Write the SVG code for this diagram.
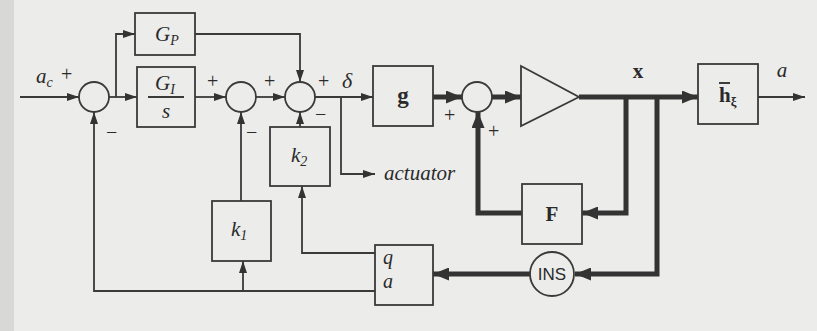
<svg xmlns="http://www.w3.org/2000/svg" width="817" height="331" viewBox="0 0 817 331">
<defs>
<style>
.bg{fill:#ececea}
.blk{fill:none;stroke:#3a3a3a;stroke-width:1.8}
.thin{fill:none;stroke:#3a3a3a;stroke-width:1.8}
.thick{fill:none;stroke:#333;stroke-width:5}
.t{font-family:"Liberation Serif",serif;fill:#2a2a2a}
.it{font-style:italic}
.b{font-weight:bold}
.s{font-family:"Liberation Sans",sans-serif;fill:#2a2a2a}
</style>
<marker id="ah" markerWidth="12" markerHeight="8" refX="12" refY="4" orient="auto" markerUnits="userSpaceOnUse"><path d="M0,0 L12,4 L0,8 z" fill="#333"/></marker>
<marker id="AH" markerWidth="16" markerHeight="13" refX="16" refY="6.5" orient="auto" markerUnits="userSpaceOnUse"><path d="M0,0 L16,6.5 L0,13 z" fill="#333"/></marker>
</defs>
<rect class="bg" x="0" y="0" width="817" height="331"/>
<rect x="0" y="0" width="14" height="331" fill="#d8d8d6"/>

<g id="connectors">
<path class="thin" d="M20,97 H79" marker-end="url(#ah)"/>
<path class="thin" d="M109,97 H137" marker-end="url(#ah)"/>
<path class="thin" d="M116,97 V34 H135" marker-end="url(#ah)"/>
<path class="thin" d="M195,97 H226" marker-end="url(#ah)"/>
<path class="thin" d="M256,97 H285" marker-end="url(#ah)"/>
<path class="thin" d="M195,34 H300 V82" marker-end="url(#ah)"/>
<path class="thin" d="M300,127 V112" marker-end="url(#ah)"/>
<path class="thin" d="M315,97 H373" marker-end="url(#ah)"/>
<path class="thin" d="M341,97 V174 H375" marker-end="url(#ah)"/>
<path class="thick" d="M433,97 H462" marker-end="url(#AH)"/>
<path class="thick" d="M492,97 H521" marker-end="url(#AH)"/>
<path class="thick" d="M579,97 H698" marker-end="url(#AH)"/>
<path class="thin" d="M758,97 H805" marker-end="url(#ah)"/>
<path class="thick" d="M626,97 V213 H582" marker-end="url(#AH)"/>
<path class="thick" d="M522,213 H478 V112" marker-end="url(#AH)"/>
<path class="thick" d="M657,97 V274 H575" marker-end="url(#AH)"/>
<path class="thick" d="M530,274 H433" marker-end="url(#AH)"/>
<path class="thin" d="M375,253 H302 V186" marker-end="url(#ah)"/>
<path class="thin" d="M375,291 H94 V112" marker-end="url(#ah)"/>
<path class="thin" d="M243,291 V261" marker-end="url(#ah)"/>
<path class="thin" d="M241,201 V112" marker-end="url(#ah)"/>
</g>

<g id="sum1"><circle class="blk" cx="94" cy="97" r="15"/></g>
<g id="sum2"><circle class="blk" cx="241" cy="97" r="15"/></g>
<g id="sum3"><circle class="blk" cx="300" cy="97" r="15"/></g>
<g id="sum4"><circle class="blk" cx="477" cy="97" r="15"/></g>

<g id="GP">
<rect class="blk" x="135" y="13" width="60" height="42"/>
<text class="t it" x="155" y="41" font-size="21">G<tspan font-size="14" dy="4">P</tspan></text>
</g>
<g id="GI">
<rect class="blk" x="137" y="67" width="58" height="60"/>
<text class="t it" x="155" y="90" font-size="21">G<tspan font-size="14" dy="4">I</tspan></text>
<line class="blk" x1="148" y1="97" x2="184" y2="97"/>
<text class="t it" x="166" y="118" font-size="21" text-anchor="middle">s</text>
</g>
<g id="k2">
<rect class="blk" x="270" y="127" width="60" height="59"/>
<text class="t it" x="291" y="162" font-size="21">k<tspan font-size="14" dy="4">2</tspan></text>
</g>
<g id="k1">
<rect class="blk" x="212" y="201" width="59" height="60"/>
<text class="t it" x="231" y="236" font-size="21">k<tspan font-size="14" dy="4">1</tspan></text>
</g>
<g id="g">
<rect class="blk" x="373" y="66" width="60" height="60"/>
<text class="t b" x="403" y="103" font-size="23" text-anchor="middle">g</text>
</g>
<g id="amp">
<path class="blk" d="M521,66 L579,97 L521,126 Z"/>
</g>
<g id="h">
<rect class="blk" x="698" y="64" width="60" height="60"/>
<text class="t b" x="719" y="102" font-size="21">h<tspan font-size="13" dy="4">ξ</tspan></text>
<line x1="719" y1="83" x2="730" y2="83" stroke="#2a2a2a" stroke-width="1.8"/>
</g>
<g id="F">
<rect class="blk" x="522" y="184" width="60" height="60"/>
<text class="t b" x="552" y="221" font-size="21" text-anchor="middle">F</text>
</g>
<g id="INS">
<circle class="blk" cx="552" cy="274" r="22"/>
<text class="s" x="552" y="280" font-size="17" text-anchor="middle">INS</text>
</g>
<g id="qa">
<rect class="blk" x="375" y="245" width="58" height="60"/>
<text class="t it" x="383" y="264" font-size="20">q</text>
<text class="t it" x="383" y="288" font-size="20">a</text>
</g>

<g id="labels">
<text class="t it" x="36" y="83" font-size="21">a<tspan font-size="14" dy="4">c</tspan></text>
<text class="t" x="61" y="81" font-size="20">+</text>
<text class="t" x="106" y="139" font-size="20">−</text>
<text class="t" x="207" y="88" font-size="20">+</text>
<text class="t" x="246" y="139" font-size="20">−</text>
<text class="t" x="264" y="88" font-size="20">+</text>
<text class="t" x="318" y="88" font-size="20">+</text>
<text class="t" x="315" y="121" font-size="20">−</text>
<text class="t it" x="342" y="88" font-size="22">δ</text>
<text class="t it" x="384" y="180" font-size="21">actuator</text>
<text class="t" x="444" y="122" font-size="20">+</text>
<text class="t" x="488" y="138" font-size="20">+</text>
<text class="t b" x="638" y="78" font-size="21" text-anchor="middle">x</text>
<text class="t it" x="782" y="77" font-size="21" text-anchor="middle">a</text>
</g>
</svg>
